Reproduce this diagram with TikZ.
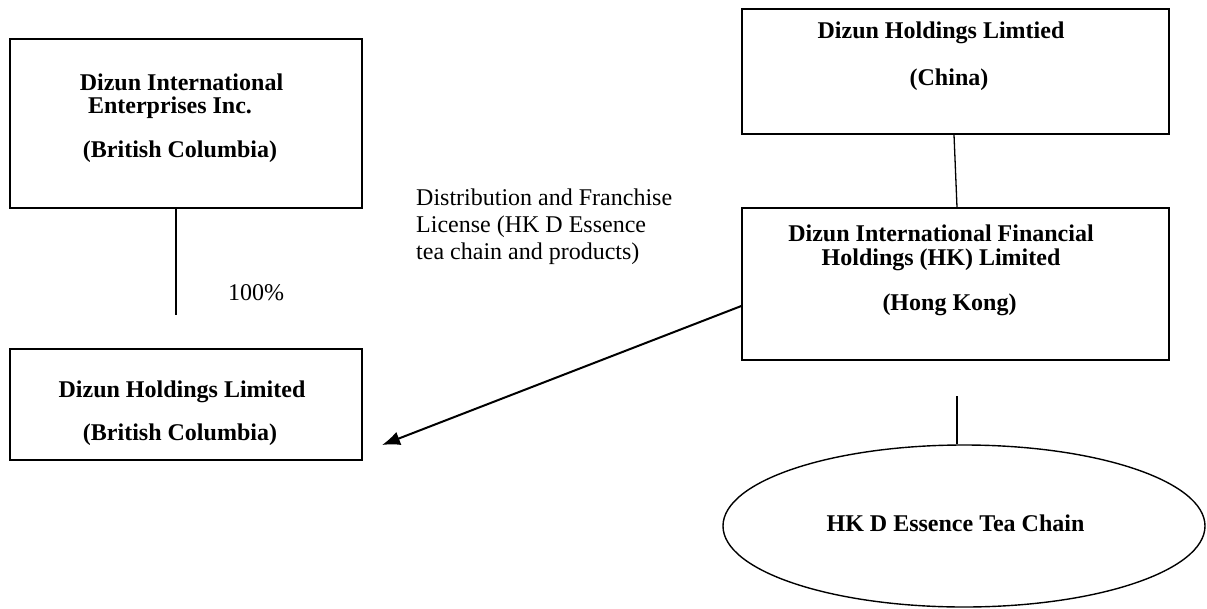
\documentclass[tikz,border=0pt]{standalone}
\usepackage{fontspec}
\setmainfont{Liberation Serif}
\usetikzlibrary{shapes.geometric,arrows.meta}
\tikzset{
  box/.style={draw=black, line width=1.4pt, rectangle, inner sep=0pt},
  oval/.style={draw=black, line width=1.4pt, ellipse, inner sep=0pt},
  btxt/.style={font=\fontsize{24}{27}\selectfont\bfseries, inner sep=0pt, anchor=center},
  rtxt/.style={font=\fontsize{24}{27}\selectfont, inner sep=0pt},
  link/.style={draw=black, line width=1.3pt},
  licarrow/.style={draw=black, line width=2pt, -{Latex[length=18pt,width=14pt]}}
}
\begin{document}
\begin{tikzpicture}[x=1pt,y=-1pt]
\useasboundingbox (0,0) rectangle (1207,608);
% boxes
\node[box, minimum width=352pt, minimum height=169pt] (die) at (186,123.5) {};
\node[box, minimum width=352pt, minimum height=111pt] (dhl) at (186,404.5) {};
\node[box, minimum width=427pt, minimum height=125pt] (dhc) at (955.5,71.5) {};
\node[box, minimum width=427pt, minimum height=152pt] (dhk) at (955.5,284) {};
\node[oval, minimum width=482pt, minimum height=162pt] (tea) at (964,526) {};
% texts
\node[btxt] (t1a) at (181.5,82) {Dizun International};
\node[btxt] (t1b) at (170,108) {Enterprises Inc.};
\node[btxt] (t1c) at (180,152) {(British Columbia)};
\node[btxt] (t2a) at (182,392) {Dizun Holdings Limited};
\node[btxt] (t2b) at (180,435) {(British Columbia)};
\node[btxt] (t3a) at (941,33) {Dizun Holdings Limtied};
\node[btxt] (t3b) at (949,80) {(China)};
\node[btxt] (t4a) at (941,233) {Dizun International Financial};
\node[btxt] (t4b) at (941,260) {Holdings (HK) Limited};
\node[btxt] (t4c) at (949.5,305) {(Hong Kong)};
\node[btxt] (t5) at (955.5,523) {HK D Essence Tea Chain};
\node[rtxt, anchor=center] (pct) at (256,293) {100\%};
\node[rtxt, anchor=west, align=left] (lic) at (416,227)
  {Distribution and Franchise\\License (HK D Essence\\tea chain and products)};
% connectors
\coordinate (e1) at (176,315);
\coordinate (e2) at (957,396);
\coordinate (a2) at (382,445);
\draw[link] (die.south -| e1) -- (e1);
\draw[link] ([xshift=-1.5pt]dhc.south) -- ([xshift=1.5pt]dhk.north);
\draw[link] (e2) -- (e2 |- tea.north);
\draw[licarrow] ([yshift=-22pt]dhk.west) -- (a2);
\end{tikzpicture}
\end{document}
